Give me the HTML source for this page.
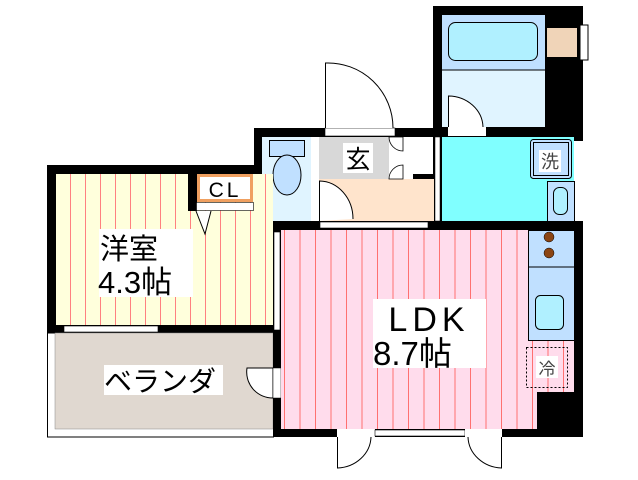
<!DOCTYPE html>
<html><head><meta charset="utf-8"><style>
html,body{margin:0;padding:0;background:#fff;width:638px;height:480px;overflow:hidden}
svg{display:block}
text{font-family:"Liberation Sans","Noto Sans CJK JP",sans-serif}
</style></head><body>
<svg width="638" height="480" viewBox="0 0 638 480" xmlns="http://www.w3.org/2000/svg">
<defs>
<pattern id="py" x="0" y="0" width="15" height="10" patternUnits="userSpaceOnUse"><rect width="15" height="10" fill="#ffffdc"/><rect x="10" width="1" height="10" fill="#ff8080"/></pattern>
<pattern id="pp" x="0" y="0" width="15.5" height="10" patternUnits="userSpaceOnUse"><rect width="15.5" height="10" fill="#ffdcec"/><rect x="5" width="1" height="10" fill="#ff7070"/></pattern>
</defs>
<!-- bath block -->
<rect x="433" y="6" width="150" height="135" fill="#000"/>
<rect x="442" y="15" width="103" height="55" fill="#c0e0ff"/>
<rect x="442" y="70" width="103" height="57" fill="#e0f4ff"/>
<line x1="442" y1="70" x2="545" y2="70" stroke="#000" stroke-width="1"/>
<rect x="448.5" y="22.5" width="89" height="38" rx="7" fill="#b0f0ff" stroke="#000"/>
<rect x="547" y="28" width="30" height="29" fill="#f0d4b8"/>
<rect x="580" y="25" width="8" height="35" fill="#fff" stroke="#000"/>
<rect x="448" y="127" width="38" height="9" fill="#fff"/>
<path d="M448.5 127 V96 A35 32 0 0 1 483 127" fill="#fff" stroke="#000"/>
<!-- toilet block & genkan -->
<rect x="254" y="128" width="190" height="102" fill="#000"/>
<rect x="262" y="137" width="49" height="84" fill="#e0f4ff"/>
<rect x="269.5" y="140.5" width="35" height="16" fill="#c0e0ff" stroke="#000"/>
<ellipse cx="287" cy="175" rx="14" ry="20" fill="#c0e0ff" stroke="#000"/>
<rect x="311" y="137" width="8" height="84" fill="#fff"/>
<rect x="319" y="137" width="70" height="42" fill="#d8d8d8"/>
<rect x="319" y="179" width="115" height="42" fill="#ffe4cc"/>
<rect x="389" y="137" width="24" height="42" fill="#fff"/>
<path d="M389 137 A14 14 0 0 0 403 151 V137Z M389 179 A14 14 0 0 1 403 165 V179Z" fill="#fff" stroke="#000" stroke-width="0.8"/>
<rect x="413" y="137" width="20" height="37" fill="#fff"/>
<rect x="343" y="143" width="30" height="30" fill="#fff"/>
<text x="358" y="168" font-size="25" text-anchor="middle">玄</text>
<path d="M319.5 221 V181 A34 38 0 0 1 353 219" fill="#fff" stroke="#000"/>
<!-- entrance door -->
<rect x="325" y="128" width="70" height="8" fill="#fff" stroke="#000" stroke-width="0.6"/>
<path d="M325.5 128 V63 A65 65 0 0 1 393 128" fill="#fff" stroke="#000"/>
<!-- washroom -->
<rect x="442" y="137" width="132" height="84" fill="#80ffff"/>
<rect x="435" y="137" width="5" height="84" fill="#fff" stroke="#000" stroke-width="0.5"/>
<rect x="530.5" y="139.5" width="41" height="39" rx="3" fill="#c0e0ff" stroke="#000"/>
<rect x="533.5" y="142.5" width="35" height="33" fill="#c0e0ff" stroke="#000"/>
<rect x="539" y="150" width="22" height="22" fill="#fff"/>
<text x="550" y="168" font-size="18" text-anchor="middle" fill="#444">洗</text>
<rect x="547.5" y="181.5" width="27" height="40" fill="#c0e0ff" stroke="#000"/>
<rect x="553.5" y="187.5" width="14" height="27" rx="6" fill="#b0f0ff" stroke="#000"/>
<!-- west room -->
<rect x="47" y="165" width="215" height="9" fill="#000"/>
<rect x="47" y="165" width="9" height="168" fill="#000"/>
<rect x="56" y="174" width="217" height="151" fill="url(#py)"/>
<rect x="188" y="174" width="9" height="37" fill="#000"/>
<rect x="197" y="174" width="56" height="28" fill="#f0a060"/>
<rect x="200" y="177" width="50" height="22" fill="#fff"/>
<text x="225" y="197" font-size="21" text-anchor="middle" letter-spacing="3">CL</text>
<rect x="196.5" y="202.5" width="57" height="8" fill="#fff" stroke="#000" stroke-width="0.6"/>
<path d="M196 211 L205 234 L211 211" fill="#fff" stroke="#000"/>
<rect x="99" y="229" width="94" height="68" fill="#fff"/>
<text x="100" y="259" font-size="29">洋室</text>
<text x="98" y="293" font-size="31">4.3帖</text>
<rect x="47" y="325" width="234" height="8" fill="#000"/>
<rect x="64" y="326" width="94" height="6" fill="#fff" stroke="#000" stroke-width="0.6"/>
<!-- balcony -->
<rect x="47.5" y="333" width="226" height="104" fill="#fff" stroke="#000"/>
<rect x="55" y="333" width="218" height="96" fill="#e0d8d0" stroke="#888" stroke-width="0.5"/>
<rect x="104" y="365" width="119" height="30" fill="#fff"/>
<text x="104" y="391" font-size="28">ベランダ</text>
<path d="M247 368 A26 26 0 0 0 273 398 V368Z" fill="#fff" stroke="#000"/>
<!-- LDK -->
<rect x="273" y="221" width="310" height="9" fill="#000"/>
<rect x="320" y="222" width="108" height="6" fill="#fff" stroke="#000" stroke-width="0.6"/>
<rect x="273" y="230" width="8" height="207" fill="#000"/>
<rect x="274" y="232" width="6" height="98" fill="#fff" stroke="#000" stroke-width="0.6"/>
<rect x="273" y="368" width="8" height="30" fill="#fff" stroke="#000" stroke-width="0.5"/>
<rect x="281" y="230" width="293" height="199" fill="url(#pp)"/>
<rect x="574" y="221" width="9" height="216" fill="#000"/>
<rect x="537" y="392" width="46" height="45" fill="#000"/>
<rect x="528.5" y="230.5" width="46" height="110" fill="#c0e0ff" stroke="#000"/>
<line x1="528" y1="267" x2="574" y2="267" stroke="#000"/>
<circle cx="549" cy="237" r="5" fill="#8b4513" stroke="#000" stroke-width="0.5"/>
<circle cx="549" cy="253" r="5" fill="#8b4513" stroke="#000" stroke-width="0.5"/>
<rect x="535.5" y="295.5" width="28" height="34" rx="5" fill="#b0f0ff" stroke="#000"/>
<rect x="526.5" y="347.5" width="41" height="40" fill="none" stroke="#000" stroke-dasharray="2,2"/>
<rect x="536" y="356" width="22" height="22" fill="#fff"/>
<text x="547" y="375" font-size="17" text-anchor="middle" fill="#444">冷</text>
<rect x="373" y="299" width="113" height="69" fill="#fff"/>
<text x="429" y="331" font-size="34" text-anchor="middle" letter-spacing="5">LDK</text>
<text x="373" y="365" font-size="33">8.7帖</text>
<rect x="273" y="429" width="310" height="8" fill="#000"/>
<rect x="337" y="429" width="38" height="8" fill="#fff"/>
<rect x="375" y="430" width="90" height="6" fill="#fff" stroke="#000" stroke-width="0.6"/>
<rect x="465" y="429" width="37" height="8" fill="#fff"/>
<path d="M337.5 437 V468 A35 32 0 0 0 371 437" fill="#fff" stroke="#000"/>
<path d="M501.5 437 V468 A35 32 0 0 1 468 437" fill="#fff" stroke="#000"/>
</svg>
</body></html>
